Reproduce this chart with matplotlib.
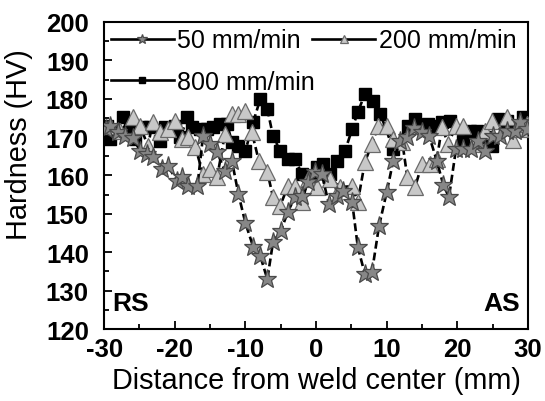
import matplotlib
matplotlib.use("Agg")
import matplotlib.pyplot as plt
from matplotlib.ticker import MultipleLocator

plt.rcParams['font.family'] = ['Liberation Sans', 'DejaVu Sans']
plt.rcParams['axes.unicode_minus'] = False

# 50 mm/min (stars)
x50 = [-29.7, -29.1, -28.0, -27.0, -25.9, -24.9, -23.9, -23.1, -21.8, -20.9, -19.7, -19.0,
       -18.1, -16.8, -16.0, -15.0, -14.0, -12.9, -11.9, -11.0, -10.0, -8.9, -7.9, -6.9,
       -6.1, -5.0, -4.0, -3.0, -2.0, -1.1, -0.1, 0.8, 1.8, 3.0, 3.8, 5.1, 5.9, 6.9, 7.9,
       8.9, 10.0, 10.9, 11.9, 12.9, 13.9, 15.0, 16.0, 17.1, 18.0, 18.8, 19.8, 20.8, 21.9,
       22.9, 23.9, 25.0, 26.0, 27.0, 28.1, 28.9, 29.8]
hv50 = [172.0, 172.9, 171.3, 170.3, 169.7, 166.4, 165.6, 164.8, 161.7, 162.4, 158.5, 159.6,
        157.2, 157.2, 170.3, 168.2, 166.1, 161.1, 163.7, 155.2, 147.6, 141.4, 139.0, 133.0,
        142.6, 145.5, 150.5, 154.4, 154.6, 158.3, 160.9, 160.4, 152.6, 154.6, 155.9, 153.1,
        141.4, 134.3, 134.8, 146.8, 155.7, 163.7, 169.0, 170.0, 172.3, 171.3, 170.3, 163.7,
        157.5, 154.4, 166.9, 166.9, 166.9, 169.0, 166.4, 170.3, 170.3, 171.6, 171.6, 173.9,
        172.1]

# 200 mm/min (triangles)
x200 = [-29.1, -27.7, -25.9, -24.9, -23.8, -23.1, -22.1, -20.9, -19.9, -19.0, -18.1, -17.1,
        -16.0, -15.0, -14.0, -12.9, -11.9, -11.0, -10.0, -9.1, -8.1, -6.9, -6.1, -5.1,
        -4.0, -3.0, -2.0, -1.1, 0.1, 2.0, 3.4, 5.1, 5.9, 6.9, 7.9, 8.8, 10.0, 10.9, 12.2,
        12.9, 14.0, 15.0, 16.1, 17.1, 17.8, 18.7, 19.8, 20.8, 22.9, 23.9, 24.9, 27.0,
        27.9, 28.9, 29.8]
hv200 = [172.9, 171.6, 175.2, 172.9, 167.7, 173.9, 171.3, 172.1, 174.2, 169.5, 170.0, 167.4,
         160.4, 161.7, 159.6, 170.8, 176.0, 176.0, 176.8, 171.3, 163.8, 160.9, 154.4, 152.0,
         157.2, 157.2, 153.1, 159.1, 157.0, 159.1, 157.0, 157.2, 153.1, 163.5, 168.2, 172.9,
         172.9, 169.5, 168.7, 159.6, 157.0, 163.0, 163.0, 164.3, 172.6, 168.2, 172.9, 172.9,
         168.2, 171.6, 174.2, 175.2, 169.2, 172.1, 173.4]

# 800 mm/min (squares)
x800 = [-29.6, -29.1, -27.3, -26.3, -25.6, -24.6, -23.5, -22.1, -21.4, -19.9, -19.2, -18.2,
        -17.5, -16.4, -15.4, -14.6, -13.6, -12.6, -11.9, -11.0, -10.0, -8.9, -7.9, -6.9,
        -6.1, -5.1, -4.0, -3.0, -2.0, -0.8, 0.1, 1.0, 2.0, 3.0, 4.1, 5.1, 5.9, 6.9, 8.1,
        9.1, 10.9, 13.0, 14.0, 14.7, 15.8, 16.8, 17.8, 19.0, 20.8, 21.8, 22.8, 23.9, 24.9,
        25.7, 27.0, 28.1, 29.3]
hv800 = [172.9, 169.5, 175.2, 172.6, 169.5, 172.6, 172.6, 169.0, 172.6, 172.9, 170.0, 175.2,
         172.6, 172.1, 172.1, 172.6, 173.4, 173.4, 168.7, 167.7, 166.4, 173.9, 179.9, 177.3,
         170.3, 166.4, 164.3, 164.3, 160.4, 159.8, 162.2, 163.0, 160.4, 163.8, 166.4, 172.1,
         176.5, 181.2, 179.4, 176.0, 166.9, 172.9, 174.7, 172.9, 173.4, 172.9, 173.9, 174.2,
         169.0, 171.6, 171.6, 170.0, 167.7, 174.7, 174.2, 172.9, 175.2]

labels = ['50 mm/min', '200 mm/min', '800 mm/min']
xticks = [-30, -20, -10, 0, 10, 20, 30]
yticks = [120, 130, 140, 150, 160, 170, 180, 190, 200]

fig = plt.figure(figsize=(5.45, 4.02), dpi=100)
ax = fig.add_axes([0.191, 0.179, 0.778, 0.764])

dash = (0, (3.0, 1.5))
l800, = ax.plot(x800, hv800, linestyle=dash, color='black', lw=1.9, marker='s',
                markersize=9, markerfacecolor='black', markeredgecolor='black',
                label=labels[2], zorder=2)
l200, = ax.plot(x200, hv200, linestyle=dash, color='black', lw=1.9, marker='^',
                markersize=11.5, markerfacecolor='#c8c8c8', markeredgecolor='#6a6a6a',
                markeredgewidth=0.9, label=labels[1], zorder=3)
l50, = ax.plot(x50, hv50, linestyle=dash, color='black', lw=1.9, marker='*',
               markersize=14, markerfacecolor='#878787', markeredgecolor='#4a4a4a',
               markeredgewidth=0.9, label=labels[0], zorder=4)

ax.set_xlim(-30, 30)
ax.set_ylim(120, 200)
ax.set_xticks(xticks)
ax.set_yticks(yticks)
ax.xaxis.set_minor_locator(MultipleLocator(5))
ax.yaxis.set_minor_locator(MultipleLocator(5))
ax.tick_params(which='both', direction='in', width=1.3)
ax.tick_params(which='major', length=6)
ax.tick_params(which='minor', length=3.5)
ax.tick_params(axis='x', which='major', pad=6, labelsize=18.5)
ax.tick_params(axis='y', which='major', pad=11, labelsize=18.5)
for lab in ax.get_xticklabels() + ax.get_yticklabels():
    lab.set_fontweight('bold')
for s in ax.spines.values():
    s.set_linewidth(1.5)

ax.set_xlabel('Distance from weld center (mm)', fontsize=20.8, labelpad=3)
ax.set_ylabel('Hardness (HV)', fontsize=20.8)
ax.yaxis.set_label_coords(-0.167, 0.605)

ax.text(0.02, 0.085, 'RS', transform=ax.transAxes, fontsize=19, fontweight='bold',
        ha='left', va='center')
ax.text(0.98, 0.085, 'AS', transform=ax.transAxes, fontsize=19, fontweight='bold',
        ha='right', va='center')

leg_kw = dict(loc='upper left', frameon=False, fontsize=18, handlelength=2.5,
              handletextpad=0.15, columnspacing=0.45, borderaxespad=0.0,
              borderpad=0.2, markerscale=0.55)
leg1 = ax.legend(handles=[l50, l200], ncol=2, bbox_to_anchor=(0.005, 0.995), **leg_kw)
ax.add_artist(leg1)
leg2 = ax.legend(handles=[l800], ncol=1, bbox_to_anchor=(0.005, 0.86), **leg_kw)
for lg in (leg1, leg2):
    for h in lg.legend_handles:
        h.set_linestyle('-')

fig.savefig('out.png', dpi=100)
